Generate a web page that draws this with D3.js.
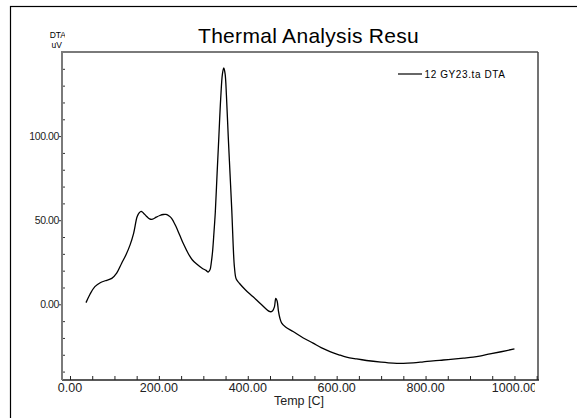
<!DOCTYPE html>
<html>
<head>
<meta charset="utf-8">
<script src="https://cdn.jsdelivr.net/npm/d3@7"></script>
<style>
  body { margin: 0; background: #fff; }
  text { font-family: "Liberation Sans", Arial, sans-serif; }
</style>
</head>
<body>
<div id="chart"></div>
<script>
// DTA curve (temperature in C, signal in uV)
const temps = [36, 45, 56, 68, 79, 94, 105, 116, 126, 135, 143, 151, 156, 160, 165, 172, 179, 186, 194, 202,
  210, 216, 223, 229, 238, 247, 256, 266, 275, 285, 298, 306, 311, 315, 318, 321, 324, 327, 331, 335,
  339, 343, 346, 349, 352, 356, 360, 364, 367, 370, 374, 381, 395, 412, 430, 450, 456, 460, 463, 466,
  469, 472, 476, 485, 502, 525, 547, 565, 585, 605, 622, 645, 667, 700, 727, 750, 772, 795, 817, 840,
  862, 885, 907, 925, 945, 970, 1000];
const dta = [1, 6, 10.5, 12.8, 14, 15.4, 18.5, 24.3, 29.5, 35.2, 42, 52, 54.5, 55.3, 54.3, 52.4, 50.8, 50.6, 51.8, 52.8,
  53.4, 53.4, 52.5, 51, 46.5, 41, 35.5, 30.2, 26.5, 23.9, 21.3, 20.2, 19.2, 20.5, 25, 32, 43, 55, 78, 100,
  122, 137, 140.5, 137, 124, 100, 78, 56, 36, 22, 15, 12.5, 8.5, 4.5, 0, -4.4, -3.8, -1.5, 3.5, 2,
  -4, -8, -11, -13.5, -16.2, -20, -23.1, -25.8, -28.1, -30, -31.4, -32.5, -33.4, -34.4, -35, -35.1, -34.8, -34.2, -33.6, -33.1,
  -32.6, -32, -31.4, -30.6, -29.5, -28.2, -26.5];

const xMajor = [0, 200, 400, 600, 800, 1000];
const yMajor = [0, 50, 100];
const seriesName = "12 GY23.ta DTA";
const titleText = "Thermal Analysis Results";

const W = 577, H = 418;
const plot = { left: 62, right: 538, top: 52, bottom: 380 };

const svg = d3.select("#chart").append("svg")
  .attr("width", W).attr("height", H);

const x = d3.scaleLinear().domain([-18, 1053]).range([plot.left, plot.right]);
const y = d3.scaleLinear().domain([-45, 150]).range([plot.bottom, plot.top]);

const defs = svg.append("defs");
defs.append("clipPath").attr("id", "titleClip")
  .append("rect").attr("x", 0).attr("y", 0).attr("width", 418).attr("height", 50);
defs.append("clipPath").attr("id", "xlabClip")
  .append("rect").attr("x", 0).attr("y", plot.bottom).attr("width", 535).attr("height", 20);
defs.append("clipPath").attr("id", "unitClip")
  .append("rect").attr("x", 0).attr("y", 0).attr("width", 65).attr("height", 52);

// outer frame (runs off the page at right/bottom)
svg.append("rect")
  .attr("x", 10.5).attr("y", 6.5).attr("width", 600).attr("height", 450)
  .attr("fill", "none").attr("stroke", "#000").attr("stroke-width", 1.2);

// title, cut off at the right like the original
svg.append("g").attr("clip-path", "url(#titleClip)")
  .append("text")
  .attr("x", 198).attr("y", 43)
  .attr("font-size", "21px")
  .attr("letter-spacing", "0.3px")
  .attr("fill", "#000")
  .text(titleText);

// units
const unitG = svg.append("g").attr("clip-path", "url(#unitClip)");
unitG.append("text").attr("x", 66).attr("y", 38).attr("text-anchor", "end")
  .attr("font-size", "8.5px").text("DTA");
unitG.append("text").attr("x", 62).attr("y", 47.5).attr("text-anchor", "end")
  .attr("font-size", "8.5px").text("uV");

// plot frame top/right
svg.append("line").attr("x1", plot.left).attr("x2", plot.right)
  .attr("y1", plot.top).attr("y2", plot.top)
  .attr("stroke", "#7a7a7a").attr("stroke-width", 2);
svg.append("line").attr("x1", plot.right).attr("x2", plot.right)
  .attr("y1", plot.top).attr("y2", plot.bottom)
  .attr("stroke", "#444").attr("stroke-width", 1.5);

// x axis: minor ticks every 50, labels on the 200s
const xMinor = d3.range(0, 1051, 50);
const xAxisG = svg.append("g").attr("transform", `translate(0,${plot.bottom})`);
xAxisG.call(d3.axisBottom(x).tickValues(xMinor).tickSize(-4).tickFormat(""))
  .call(g => g.select(".domain").remove());
xAxisG.selectAll(".tick line").attr("stroke", "#222");
xAxisG.append("line").attr("x1", plot.left).attr("x2", plot.right + 1)
  .attr("stroke", "#222").attr("stroke-width", 1.3);
svg.append("g").attr("clip-path", "url(#xlabClip)")
  .selectAll("text").data(xMajor).enter().append("text")
  .attr("x", d => x(d)).attr("y", plot.bottom + 12)
  .attr("text-anchor", "middle").attr("font-size", "12.5px").attr("fill", "#222")
  .text(d => d.toFixed(2));

svg.append("text").attr("x", 299).attr("y", 405).attr("text-anchor", "middle")
  .attr("font-size", "12.5px").attr("fill", "#222").text("Temp  [C]");

// y axis: minor ticks every 10 inside, majors outside with labels
const yMinor = d3.range(-40, 141, 10).filter(v => !yMajor.includes(v));
const yAxisG = svg.append("g").attr("transform", `translate(${plot.left},0)`);
yAxisG.call(d3.axisLeft(y).tickValues(yMinor).tickSize(-3).tickFormat(""))
  .call(g => g.select(".domain").remove());
yAxisG.selectAll(".tick line").attr("stroke", "#333");
yAxisG.append("g").call(d3.axisLeft(y).tickValues(yMajor).tickSize(3).tickPadding(0)
    .tickFormat(d => d.toFixed(2)))
  .call(g => g.select(".domain").remove())
  .call(g => g.selectAll("line").attr("stroke", "#333"))
  .call(g => g.selectAll("text").attr("font-size", "10.5px").attr("fill", "#222")
    .attr("letter-spacing", "-0.4px")
    .attr("font-family", "Liberation Sans, Arial, sans-serif"));
yAxisG.append("line").attr("y1", plot.top - 1).attr("y2", plot.bottom)
  .attr("stroke", "#7a7a7a").attr("stroke-width", 2);

// curve
const pts = temps.map((t, i) => [t, dta[i]]);
svg.append("path").datum(pts)
  .attr("fill", "none").attr("stroke", "#000").attr("stroke-width", 1.3)
  .attr("d", d3.line().x(d => x(d[0])).y(d => y(d[1])).curve(d3.curveCatmullRom.alpha(0.5)));

// legend
svg.append("line").attr("x1", 398).attr("x2", 422).attr("y1", 74).attr("y2", 74)
  .attr("stroke", "#000").attr("stroke-width", 1.2);
svg.append("text").attr("x", 424.5).attr("y", 77.5).attr("font-size", "10px")
  .attr("letter-spacing", "0.6px")
  .attr("fill", "#000").text(seriesName);
</script>
</body>
</html>
